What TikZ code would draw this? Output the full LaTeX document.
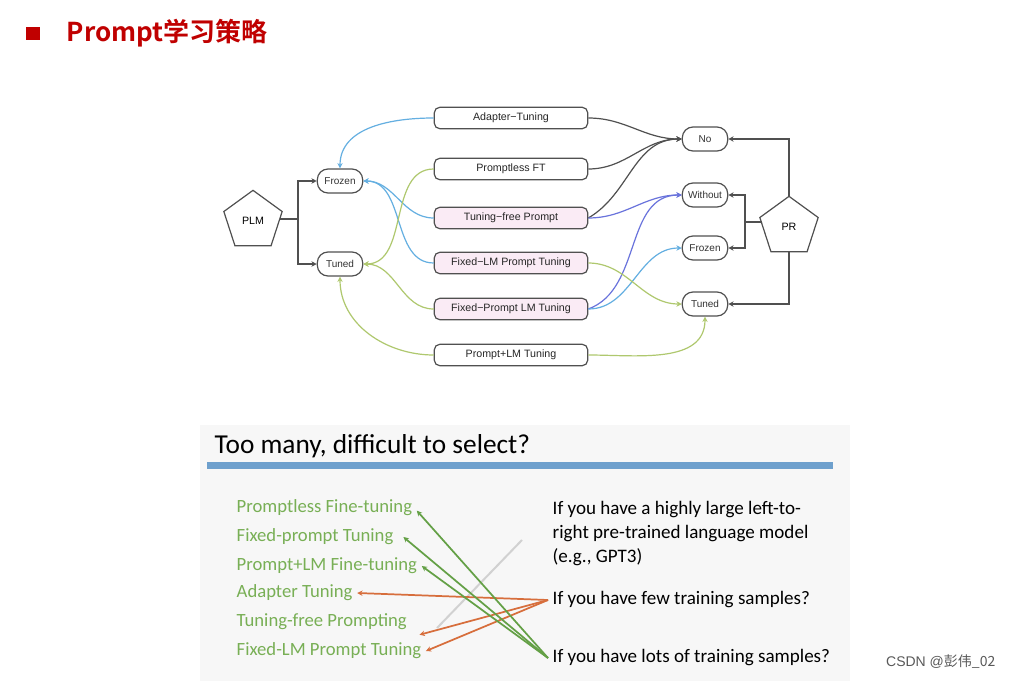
\documentclass[tikz,border=0pt]{standalone}
\usepackage{fontspec}
\setmainfont{Liberation Sans}
\newfontfamily\cjkb{Noto Sans CJK SC}[BoldFont={* Bold}]
\newfontfamily\carl{Carlito}
\usetikzlibrary{shapes.geometric,arrows.meta}
\definecolor{dred}{RGB}{192,0,0}
\definecolor{lblue}{RGB}{100,175,225}
\definecolor{purp}{RGB}{105,115,220}
\definecolor{lgreen}{RGB}{175,200,110}
\definecolor{dgray}{RGB}{80,80,80}
\definecolor{pinkf}{RGB}{250,235,245}
\definecolor{tgreen}{RGB}{120,175,85}
\definecolor{bbar}{RGB}{110,160,205}
\definecolor{oran}{RGB}{215,110,60}
\definecolor{ggreen}{RGB}{100,160,70}
\begin{document}
\begin{tikzpicture}[x=0.75pt,y=-0.75pt,
  mbox/.style={draw=dgray,line width=0.9pt,rounded corners=4pt,minimum width=115pt,minimum height=16pt,font=\fontsize{8}{9}\selectfont,text=black!85},
  pbox/.style={mbox,fill=pinkf},
  sbox/.style={draw=dgray,line width=0.9pt,rounded corners=8pt,minimum width=34pt,minimum height=18pt,font=\fontsize{7.5}{8}\selectfont,text=black!80},
  pent/.style={draw=dgray,line width=0.9pt,regular polygon,regular polygon sides=5,minimum size=46pt,inner sep=0pt,font=\fontsize{8}{9}\selectfont},
  arr/.style={-{Stealth[length=4pt,width=4pt]},line width=0.9pt},
  gl/.style={font=\carl\fontsize{14}{16}\selectfont,text=tgreen,anchor=west},
  bl/.style={font=\carl\fontsize{14.3}{18}\selectfont,anchor=west,align=left}]
\useasboundingbox (0,0) rectangle (1012,681);
\fill[white] (0,0) rectangle (1012,681);
% title
\fill[dred] (26,27) rectangle (40,40);
\node[anchor=west,text=dred,font=\cjkb\bfseries\fontsize{19.5}{22}\selectfont] (title) at (62,33) {Prompt学习策略};
% top diagram nodes
\node[pent] (plm) at (253,221) {PLM};
\node[sbox] (fl) at (340,181) {Frozen};
\node[sbox] (tl) at (340,264) {Tuned};
\node[mbox] (ad) at (511,118) {Adapter−Tuning};
\node[mbox] (pf) at (511,169) {Promptless FT};
\node[pbox] (tf) at (511,218) {Tuning−free Prompt};
\node[pbox] (fp) at (511,263) {Fixed−LM Prompt Tuning};
\node[pbox] (fm) at (511,309) {Fixed−Prompt LM Tuning};
\node[mbox] (pl) at (511,355) {Prompt+LM Tuning};
\node[sbox] (no) at (705,139) {No};
\node[sbox] (wo) at (705,195) {Without};
\node[sbox] (fr) at (705,248) {Frozen};
\node[sbox] (tr) at (705,304) {Tuned};
\node[pent] (pr) at (789,227) {PR};
% PLM tree
\coordinate (j1) at (298,219);
\draw[dgray,line width=0.9pt] (plm.east |- j1) -- (j1);
\draw[arr,dgray] (j1) |- (fl.west);
\draw[arr,dgray] (j1) |- (tl.west);
% PR tree
\coordinate (j2) at (745,222);
\draw[dgray,line width=0.9pt] (pr.west |- j2) -- (j2);
\draw[arr,dgray] (j2) |- (wo.east);
\draw[arr,dgray] (j2) |- (fr.east);
\draw[arr,dgray] (pr.north) |- (no.east);
\draw[arr,dgray] (pr.south) |- (tr.east);
% left side curves
\draw[arr,lblue] (ad.west) to[out=180,in=90] (fl.north);
\draw[arr,lblue] (tf.west) to[out=180,in=0] (fl.east);
\draw[arr,lblue] (fp.west) to[out=180,in=0] (fl.east);
\draw[arr,lgreen] (pf.west) to[out=180,in=0] (tl.east);
\draw[arr,lgreen] (fm.west) to[out=180,in=0] (tl.east);
\draw[arr,lgreen] (pl.west) to[out=180,in=-90] (tl.south);
% right side curves
\draw[arr,dgray] (ad.east) to[out=0,in=180] (no.west);
\draw[arr,dgray] (pf.east) to[out=0,in=180] (no.west);
\draw[arr,dgray] (tf.east) to[out=30,in=180] (no.west);
\draw[arr,purp] (tf.east) to[out=0,in=180] (wo.west);
\draw[arr,purp] (fm.east) to[out=20,in=180] (wo.west);
\draw[arr,lblue] (fm.east) to[out=0,in=180] (fr.west);
\draw[arr,lgreen] (fp.east) to[out=0,in=180] (tr.west);
\draw[arr,lgreen] (pl.east) to[out=0,in=-90] (tr.south);
% bottom screenshot
\fill[black!3] (200,425) rectangle (850,681);
\node[anchor=west,font=\carl\fontsize{20.5}{23}\selectfont] (q) at (210,446) {Too many, difficult to select?};
\fill[bbar] (207,462) rectangle (833,469);
\node[gl] (g1) at (232,508) {Promptless Fine-tuning};
\node[gl] (g2) at (232,537) {Fixed-prompt Tuning};
\node[gl] (g3) at (232,566) {Prompt+LM Fine-tuning};
\node[gl] (g4) at (232,593) {Adapter Tuning};
\node[gl] (g5) at (232,622) {Tuning-free Prompting};
\node[gl] (g6) at (232,651) {Fixed-LM Prompt Tuning};
\node[bl,anchor=north west] (b1) at (548,497) {If you have a highly large left-to-\\right pre-trained language model\\(e.g., GPT3)};
\node[bl] (b2) at (548,600) {If you have few training samples?};
\node[bl] (b3) at (548,658) {If you have lots of training samples?};
\coordinate (gs) at (522,540);
\coordinate (ge) at (437,628);
\draw[black!18,line width=1.5pt] (gs) -- (ge);
\draw[arr,oran,line width=1.3pt] (b2.west) -- (g4.east);
\draw[arr,oran,line width=1.3pt] (b2.west) -- ([xshift=6pt]g5.south east);
\draw[arr,oran,line width=1.3pt] (b2.west) -- (g6.east);
\draw[arr,ggreen,line width=1.3pt] (b3.west) -- ([yshift=-2pt]g1.east);
\draw[arr,ggreen,line width=1.3pt] (b3.west) -- ([xshift=4pt]g2.east);
\draw[arr,ggreen,line width=1.3pt] (b3.west) -- (g3.east);
\node[anchor=east,font=\fontsize{10.5}{12}\selectfont,text=black!65] (csdn) at (1000,662) {CSDN @\cjkb 彭伟\_02};
\end{tikzpicture}
\end{document}
